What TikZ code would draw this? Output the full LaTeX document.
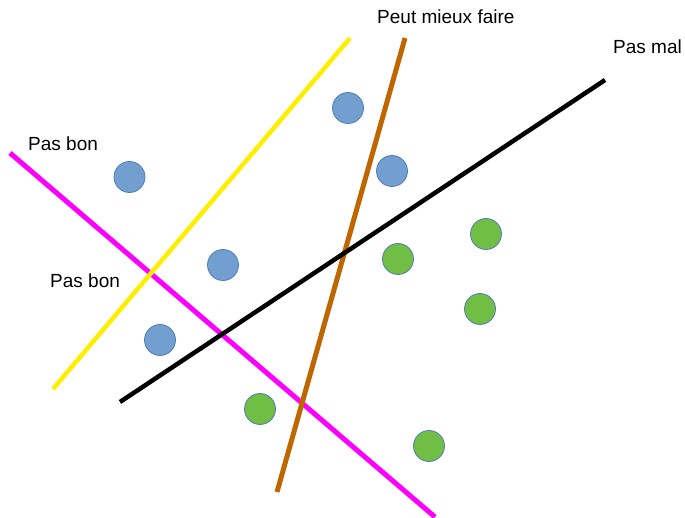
\documentclass[tikz,border=0pt]{standalone}
\usepackage{fontspec}
\setmainfont{Liberation Sans}
\definecolor{bluefill}{RGB}{114,159,207}
\definecolor{blueedge}{RGB}{80,126,186}
\definecolor{greenfill}{RGB}{112,190,68}
\definecolor{magentaline}{RGB}{255,0,255}
\definecolor{yellowline}{RGB}{255,238,0}
\definecolor{brownline}{RGB}{191,102,0}
\begin{document}
\begin{tikzpicture}[x=1pt,y=-1pt,
  pt/.style={circle,minimum size=31pt,inner sep=0pt,draw=blueedge,line width=0.8pt},
  bluept/.style={pt,fill=bluefill},
  greenpt/.style={pt,fill=greenfill},
  sep/.style={line width=5pt},
  lbl/.style={font=\fontsize{19}{22}\selectfont,anchor=west,inner sep=0pt}]
\useasboundingbox (0,0) rectangle (685,518);
% separating lines
\coordinate (m1) at (10,153);
\coordinate (m2) at (435,517);
\coordinate (y1) at (350,38);
\coordinate (y2) at (53,389);
\coordinate (b1) at (405,38);
\coordinate (b2) at (277,492);
\coordinate (k1) at (605,80);
\coordinate (k2) at (120,402);
\draw[sep,magentaline] (m1) -- (m2);
\draw[sep,yellowline,line width=4.5pt] (y1) -- (y2);
\draw[sep,brownline] (b1) -- (b2);
\draw[sep,black,line width=4.5pt] (k1) -- (k2);
% points
\node[bluept] (p1) at (348,108) {};
\node[bluept] (p2) at (129.5,177) {};
\node[bluept] (p3) at (392,171) {};
\node[bluept] (p4) at (223,265) {};
\node[bluept] (p5) at (160,340) {};
\node[greenpt] (g1) at (486,234) {};
\node[greenpt] (g2) at (398,259) {};
\node[greenpt] (g3) at (480,309) {};
\node[greenpt] (g4) at (260,409) {};
\node[greenpt] (g5) at (429,446) {};
% labels
\node[lbl] (t1) at (377,17) {Peut mieux faire};
\node[lbl] (t2) at (613,47) {Pas mal};
\node[lbl] (t3) at (28,144) {Pas bon};
\node[lbl] (t4) at (50,281) {Pas bon};
\end{tikzpicture}
\end{document}
